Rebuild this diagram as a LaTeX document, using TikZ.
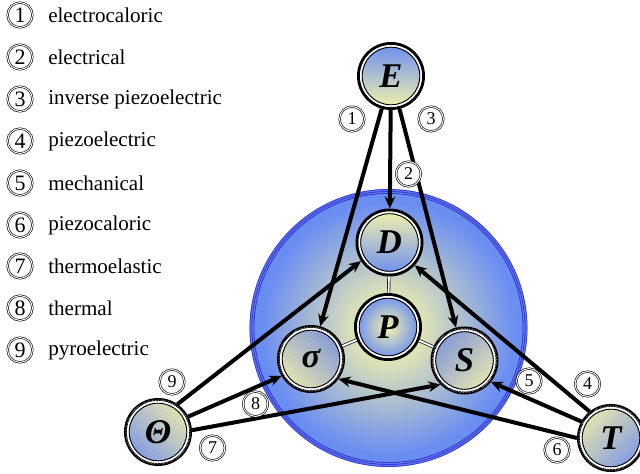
\documentclass[tikz,border=0pt]{standalone}
\usepackage{fontspec}
\setmainfont{Liberation Serif}
\usetikzlibrary{arrows.meta,patterns.meta,shadings}
\definecolor{yel}{HTML}{F4F4AA}
\definecolor{blu}{HTML}{6A8DF2}
\definecolor{rim}{HTML}{3636D2}
\definecolor{rimfill}{HTML}{5F7CEE}
\pgfdeclareradialshading{bigball}{\pgfpoint{0bp}{0bp}}{color(0bp)=(yel); color(3bp)=(yel); color(23bp)=(blu); color(25bp)=(blu); color(50bp)=(blu)}
\newcommand\ringin[1]{%
  \draw[white, line width=1.3pt] (#1.center) circle[radius=22.6pt];
  \draw[black, line width=0.7pt] (#1.center) circle[radius=21.6pt];}
\begin{document}
\begin{tikzpicture}[x=0.75pt,y=-0.75pt,
  state/.style={circle, draw=black, line width=2.25pt, minimum size=48.75pt, inner sep=0pt,
    font=\fontsize{26}{28}\selectfont\bfseries\itshape},
  hatch/.style={postaction={pattern={Lines[angle=45,distance=1.5pt,line width=0.3pt]}, pattern color=black!25}},
  num/.style={circle, draw=black, fill=white, line width=0.45pt, double=white, double distance=0.75pt,
    minimum size=18.6pt, inner sep=0pt, font=\fontsize{13.5}{14}\selectfont},
  lnum/.style={num, font=\fontsize{16.5}{17}\selectfont},
  legend/.style={anchor=west, font=\fontsize{15.8}{18}\selectfont, inner sep=0pt},
  arr/.style={line width=3pt, -{Stealth[length=9pt,width=8pt]}},
  link/.style={line width=0.5pt, double=white, double distance=1.4pt}
]
\useasboundingbox (0,0) rectangle (640,474);
% big circle
\fill[shading=bigball] (388.5,328) circle[radius=103.5pt];
\draw[rimfill, line width=3.4pt] (388.5,328) circle[radius=102.4pt];
\foreach \r in {103.9pt,102.4pt,100.9pt} \draw[rim, line width=0.6pt] (388.5,328) circle[radius=\r];
% legend
\foreach \i/\t/\y in {1/electrocaloric/15, 2/electrical/57, 3/inverse piezoelectric/99, 4/piezoelectric/141,
  5/mechanical/183, 6/piezocaloric/225, 7/thermoelastic/266, 8/thermal/308, 9/pyroelectric/350}{
  \node[lnum] (L\i) at (20,\y) {\i};
  \node[legend] (LT\i) at (48,\y) {\t};
}
% state nodes
\node[state, top color=blu, bottom color=yel] (E) at (391,76) {E};
\node[state, top color=yel, bottom color=blu] (D) at (389.5,242.5) {D};
\node[state, inner color=yel, outer color=blu] (P) at (388,327) {P};
\node[state, hatch, top color=blu!85!gray, bottom color=yel, shading angle=-45] (sigma) at (311,359) {σ};
\node[state, hatch, top color=blu!85!gray, bottom color=yel, shading angle=45] (S) at (464.5,360.5) {S};
\node[state, hatch, top color=yel, bottom color=blu, shading angle=-45] (Theta) at (158,432) {Θ};
\node[state, hatch, top color=yel, bottom color=blu, shading angle=45] (T) at (611,438) {T};
\foreach \n in {E,D,P,sigma,S,Theta,T} {\ringin{\n}}
% double links
\draw[link] (D) -- (P);
\draw[link] (P) -- (sigma);
\draw[link] (P) -- (S);
% arrows
\draw[arr] (E) -- (sigma);
\draw[arr] (E) -- (D);
\draw[arr] (E) -- (S);
\draw[arr] (T.129) -- (D.318);
\draw[arr] (T.151) -- (S.321);
\draw[arr] (T.180) -- (sigma.324);
\draw[arr] (Theta.3) -- (S.225);
\draw[arr] (Theta.27) -- (sigma.210);
\draw[arr] (Theta.55) -- (D.213);
% labels
\node[num] (n1) at (352,119) {1};
\node[num] (n2) at (408.5,174) {2};
\node[num] (n3) at (431,119) {3};
\node[num] (n4) at (587.5,384) {4};
\node[num] (n5) at (529,381) {5};
\node[num] (n6) at (557,450) {6};
\node[num] (n7) at (212.5,448) {7};
\node[num] (n8) at (255.5,404) {8};
\node[num] (n9) at (172,382) {9};
\end{tikzpicture}
\end{document}
